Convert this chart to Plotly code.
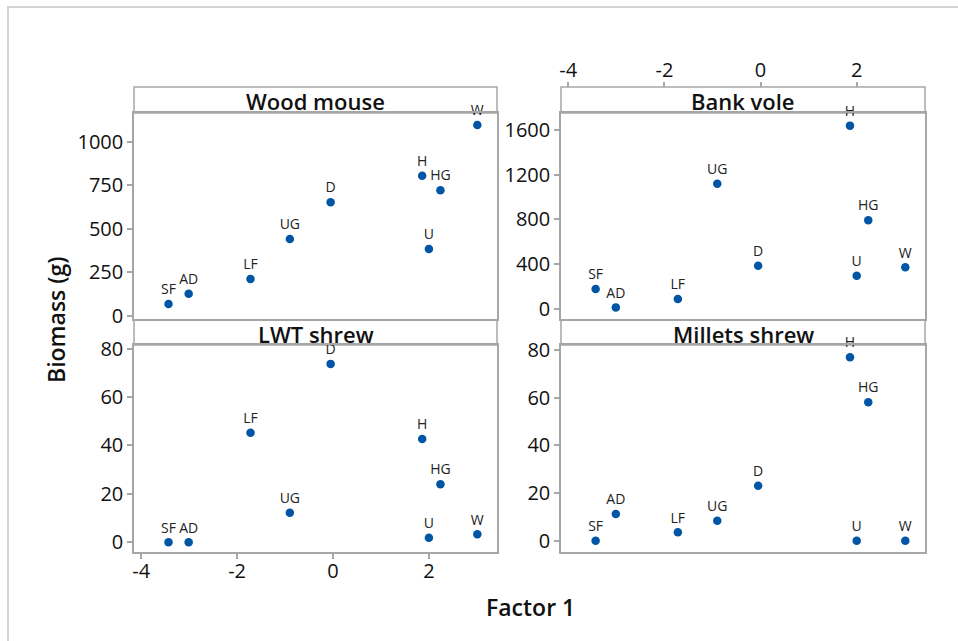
import plotly.graph_objects as go

W, H = 958, 641

sites = ["SF", "AD", "LF", "UG", "D", "H", "HG", "U", "W"]
factor1 = [-3.43, -3.01, -1.72, -0.90, -0.05, 1.86, 2.24, 2.00, 3.01]

wood_mouse = [69, 128, 212, 441, 652, 804, 721, 384, 1095]
bank_vole = [176, 12, 87, 1119, 385, 1638, 791, 295, 370]
lwt_shrew = [0, 0, 45.3, 12.2, 73.7, 42.7, 24.0, 1.9, 3.3]
millets_shrew = [0, 11.2, 3.5, 8.4, 23.1, 77.1, 58.2, 0, 0]

panel_titles = ["Wood mouse", "Bank vole", "LWT shrew", "Millets shrew"]
wood_ticks = [0, 250, 500, 750, 1000]
vole_ticks = [0, 400, 800, 1200, 1600]
shrew_ticks = [0, 20, 40, 60, 80]
x_ticks = [-4, -2, 0, 2]
x_ticktext = ["-4", "-2", "0", "2"]

FONT = "Open Sans"
BLUE = "#0055a5"
GRID = "#a6a6a6"
TXT = "#111111"

def px(x):
    return x / W

def py(y):
    return 1 - y / H

# plot areas (pixels)
cols = [(134, 497), (561, 925)]
rows = [(113, 319), (345, 552)]
strips = [(87, 113), (320, 345)]
XR = [-4.15, 3.42]

panels = [
    dict(data=wood_mouse, col=0, row=0, yr=[-17, 1164], yt=wood_ticks, xlab=False),
    dict(data=bank_vole, col=1, row=0, yr=[-92, 1751], yt=vole_ticks, xlab=False),
    dict(data=lwt_shrew, col=0, row=1, yr=[-4.0, 81.5], yt=shrew_ticks, xlab=True),
    dict(data=millets_shrew, col=1, row=1, yr=[-4.75, 82.2], yt=shrew_ticks, xlab=False),
]

fig = go.Figure()
layout = {}
shapes = []
annotations = []

for i, p in enumerate(panels):
    n = "" if i == 0 else str(i + 1)
    x0, x1 = cols[p["col"]]
    y0, y1 = rows[p["row"]]
    fig.add_trace(go.Scatter(
        x=factor1, y=p["data"], text=sites, mode="markers+text",
        textposition="top center",
        textfont=dict(family=FONT, size=14, color="#222222"),
        marker=dict(color=BLUE, size=8.5),
        xaxis="x" + n, yaxis="y" + n, showlegend=False, cliponaxis=False,
        hoverinfo="x+y+text",
    ))
    xa = dict(
        domain=[px(x0), px(x1)], range=XR, anchor="y" + n,
        showgrid=False, zeroline=False, showline=True, linecolor=GRID,
        linewidth=1.5, mirror=True,
        tickvals=x_ticks, ticktext=x_ticktext,
        tickfont=dict(family=FONT, size=20, color=TXT),
    )
    if p["xlab"]:
        xa.update(side="bottom", ticks="outside", ticklen=5, tickcolor=GRID,
                  tickwidth=1.5, ticklabelstandoff=-5)
    else:
        xa.update(showticklabels=False, ticks="")
    ya = dict(
        domain=[py(y1), py(y0)], range=p["yr"], anchor="x" + n,
        showgrid=False, zeroline=False, showline=True, linecolor=GRID,
        linewidth=1.5, mirror=True,
        tickvals=p["yt"], ticks="outside", ticklen=5, tickcolor=GRID,
        tickwidth=1.5, tickfont=dict(family=FONT, size=20, color=TXT),
    )
    layout["xaxis" + n] = xa
    layout["yaxis" + n] = ya

    s0, s1 = strips[p["row"]]
    shapes.append(dict(type="rect", xref="paper", yref="paper", layer="below",
                       x0=px(x0), x1=px(x1), y0=py(s1), y1=py(s0),
                       line=dict(color=GRID, width=1.5), fillcolor="white"))
    annotations.append(dict(text=panel_titles[i], xref="paper", yref="paper",
                            x=px((x0 + x1) / 2), y=py((s0 + s1) / 2 + 1),
                            xanchor="center", yanchor="middle", showarrow=False,
                            font=dict(family=FONT, size=22, color=TXT,
                                      weight=600)))

# top Factor 1 axis above the Bank vole strip
fig.add_trace(go.Scatter(x=[], y=[], xaxis="x5", yaxis="y2", showlegend=False,
                         hoverinfo="skip"))
layout["xaxis5"] = dict(
    overlaying="x2", anchor="free", position=py(strips[0][0]), side="top",
    range=XR, showgrid=False, zeroline=False, showline=False,
    tickvals=x_ticks, ticktext=x_ticktext, ticks="outside", ticklen=5,
    tickcolor=GRID, tickwidth=1.5, ticklabelstandoff=-3,
    tickfont=dict(family=FONT, size=20, color=TXT),
)

# outer frame
shapes.append(dict(type="rect", xref="paper", yref="paper",
                   x0=px(8), x1=px(970), y0=py(660), y1=py(7),
                   line=dict(color="#d4d4d4", width=2), fillcolor="rgba(0,0,0,0)",
                   layer="below"))

annotations.append(dict(text="Factor 1", xref="paper", yref="paper",
                        x=px(530), y=py(607), xanchor="center", yanchor="middle",
                        showarrow=False,
                        font=dict(family=FONT, size=23, color=TXT, weight=600)))
annotations.append(dict(text="Biomass (g)", xref="paper", yref="paper",
                        x=px(56), y=py(320), xanchor="center", yanchor="middle",
                        showarrow=False, textangle=-90,
                        font=dict(family=FONT, size=23, color=TXT, weight=600)))

fig.update_layout(
    width=W, height=H, margin=dict(l=0, r=0, t=0, b=0, autoexpand=False),
    paper_bgcolor="white", plot_bgcolor="rgba(0,0,0,0)",
    shapes=shapes, annotations=annotations, **layout,
)

fig.write_html(
    "out.html",
    config={"displayModeBar": False},
    post_script="document.body.style.margin='0';document.body.style.overflow='hidden';",
)
